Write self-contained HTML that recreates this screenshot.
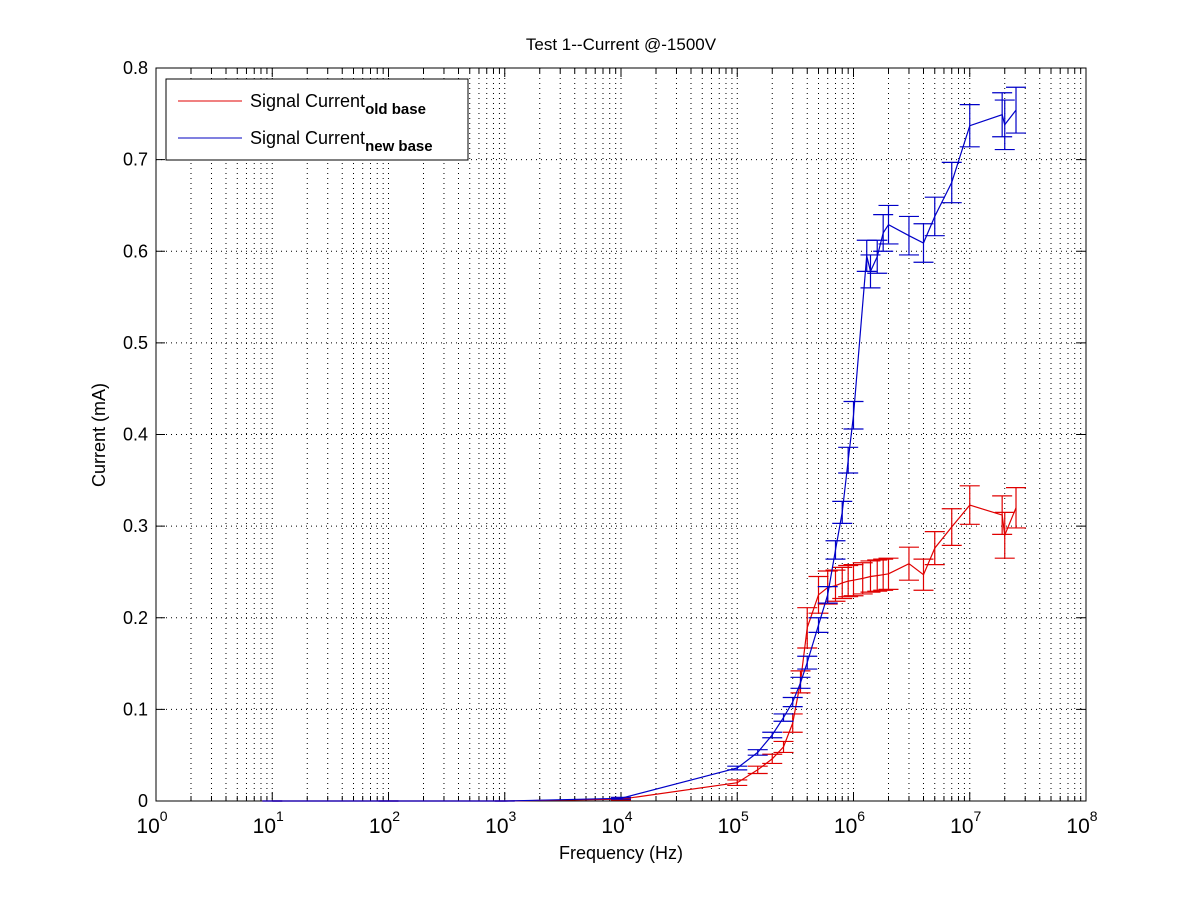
<!DOCTYPE html>
<html><head><meta charset="utf-8"><style>
body{margin:0;background:#fff;}
svg text{font-family:"Liberation Sans",Arial,sans-serif;fill:#000;}
</style></head><body>
<svg id="chart" width="1200" height="900" xmlns="http://www.w3.org/2000/svg">
<rect width="1200" height="900" fill="#fff"/>
<g id="grid"></g>
<g id="axes"></g>
<g id="series"></g>
<text x="621" y="50" text-anchor="middle" font-size="17">Test 1--Current @-1500V</text>
<text x="621" y="859" text-anchor="middle" font-size="18">Frequency (Hz)</text>
<text transform="translate(105,435) rotate(-90)" text-anchor="middle" font-size="18">Current (mA)</text>
<g>
<rect x="166" y="79" width="302" height="81" fill="#fff" stroke="#000" stroke-width="1"/>
<line x1="178" y1="101" x2="242" y2="101" stroke="#e00000" stroke-width="1"/>
<text x="250" y="107" font-size="18">Signal Current<tspan font-size="15" font-weight="bold" dy="7">old base</tspan></text>
<line x1="178" y1="138" x2="242" y2="138" stroke="#0000c0" stroke-width="1"/>
<text x="250" y="144" font-size="18">Signal Current<tspan font-size="15" font-weight="bold" dy="7">new base</tspan></text>
</g>
</svg>
<script>
const freqOld=[10,100,1000,1e4,1e5,1.5e5,2e5,2.5e5,3e5,3.5e5,4e5,5e5,6e5,7e5,8e5,9e5,1e6,1.2e6,1.4e6,1.6e6,1.8e6,2e6,3e6,4e6,5e6,7e6,1e7,1.9e7,2e7,2.5e7];
const valOld=[0,0,0,0.002,0.020,0.034,0.046,0.059,0.085,0.130,0.189,0.225,0.233,0.235,0.238,0.240,0.241,0.243,0.245,0.246,0.247,0.248,0.259,0.247,0.276,0.299,0.323,0.312,0.290,0.320];
const errOld=[0,0,0,0.001,0.003,0.004,0.005,0.006,0.010,0.012,0.022,0.020,0.018,0.017,0.017,0.017,0.017,0.017,0.017,0.017,0.017,0.017,0.018,0.017,0.018,0.020,0.021,0.021,0.025,0.022];
const freqNew=[10,100,1000,1e4,1e5,1.5e5,2e5,2.5e5,3e5,3.5e5,4e5,5e5,6e5,7e5,8e5,9e5,1e6,1.3e6,1.4e6,1.6e6,1.8e6,2e6,3e6,4e6,5e6,7e6,1e7,1.9e7,2e7,2.5e7];
const valNew=[0,0,0,0.003,0.036,0.053,0.072,0.091,0.108,0.129,0.151,0.192,0.225,0.274,0.315,0.372,0.421,0.595,0.578,0.594,0.620,0.629,0.617,0.609,0.638,0.675,0.737,0.749,0.738,0.754];
const errNew=[0,0,0,0.001,0.002,0.003,0.003,0.004,0.005,0.006,0.007,0.008,0.009,0.010,0.012,0.014,0.015,0.017,0.018,0.018,0.020,0.021,0.021,0.021,0.021,0.022,0.023,0.024,0.027,0.025];
const yTicks=[0,0.1,0.2,0.3,0.4,0.5,0.6,0.7,0.8];
const yTickLabels=["0","0.1","0.2","0.3","0.4","0.5","0.6","0.7","0.8"];
const xDecades=[0,1,2,3,4,5,6,7,8];

const L=156,R=1086,T=68,B=801;
const NS="http://www.w3.org/2000/svg";
const xs=f=>L+(Math.log10(f)-0)/8*(R-L);
const ys=v=>B-v/0.8*(B-T);
function mk(tag,attrs,parent){const e=document.createElementNS(NS,tag);for(const k in attrs)e.setAttribute(k,attrs[k]);parent.appendChild(e);return e;}
const grid=document.getElementById('grid'),axes=document.getElementById('axes'),ser=document.getElementById('series');
const DASH='1,4';

xDecades.forEach((d,i)=>{
  const x=xs(Math.pow(10,d));
  if(i>0&&i<xDecades.length-1){const g=mk('line',{x1:x,y1:T,x2:x,y2:B,stroke:'#000','stroke-width':1,'stroke-dasharray':DASH},grid);
    
    }
  const t1=mk('line',{x1:x,y1:B,x2:x,y2:B-9,stroke:'#000'},axes);
  
  
  const t2=mk('line',{x1:x,y1:T,x2:x,y2:T+9,stroke:'#000'},axes);
  
  
  const tx=mk('text',{x:x-4,y:B+32,'text-anchor':'middle','font-size':21},axes);
  
  
  tx.innerHTML='10<tspan font-size="14" dy="-12">'+d+'</tspan>';
  if(i<xDecades.length-1){
    for(let m=2;m<=9;m++){
      const xm=xs(m*Math.pow(10,d));
      const g=mk('line',{x1:xm,y1:T,x2:xm,y2:B,stroke:'#000','stroke-width':1,'stroke-dasharray':DASH},grid);
      
      
      const a=mk('line',{x1:xm,y1:B,x2:xm,y2:B-5,stroke:'#000'},axes);
      
      
      const b=mk('line',{x1:xm,y1:T,x2:xm,y2:T+5,stroke:'#000'},axes);
      
      
    }
  }
});
yTicks.forEach((v,i)=>{
  const y=ys(v);
  if(i>0&&i<yTicks.length-1){const g=mk('line',{x1:L,y1:y,x2:R,y2:y,stroke:'#000','stroke-dasharray':DASH},grid);
    
    }
  const a=mk('line',{x1:L,y1:y,x2:L+9,y2:y,stroke:'#000'},axes);
  
  
  const b=mk('line',{x1:R,y1:y,x2:R-9,y2:y,stroke:'#000'},axes);
  
  
  const t=mk('text',{x:L-8,y:y+6,'text-anchor':'end','font-size':18},axes);
  
  
  t.textContent=yTickLabels[i];
});
const box=mk('rect',{x:L,y:T,width:R-L,height:B-T,fill:'none',stroke:'#000','stroke-width':1},axes);



function drawSeries(fr,vals,errs,color,name){
  const g=mk('g',{},ser);
  
  
  const pts=fr.map((f,i)=>xs(f).toFixed(1)+','+ys(vals[i]).toFixed(1)).join(' ');
  const pl=mk('polyline',{points:pts,fill:'none',stroke:color,'stroke-width':1.2},g);
  
  
  fr.forEach((f,i)=>{
    const x=xs(f),y1=ys(vals[i]-errs[i]),y2=ys(vals[i]+errs[i]);
    const eb=mk('path',{d:`M${x},${y1}V${y2}M${x-10},${y1}H${x+10}M${x-10},${y2}H${x+10}`,stroke:color,'stroke-width':1.2,fill:'none'},g);
    
    
  });
}
drawSeries(freqOld,valOld,errOld,'#e00000','old-base-series');
drawSeries(freqNew,valNew,errNew,'#0000c8','new-base-series');
</script>
</body></html>
